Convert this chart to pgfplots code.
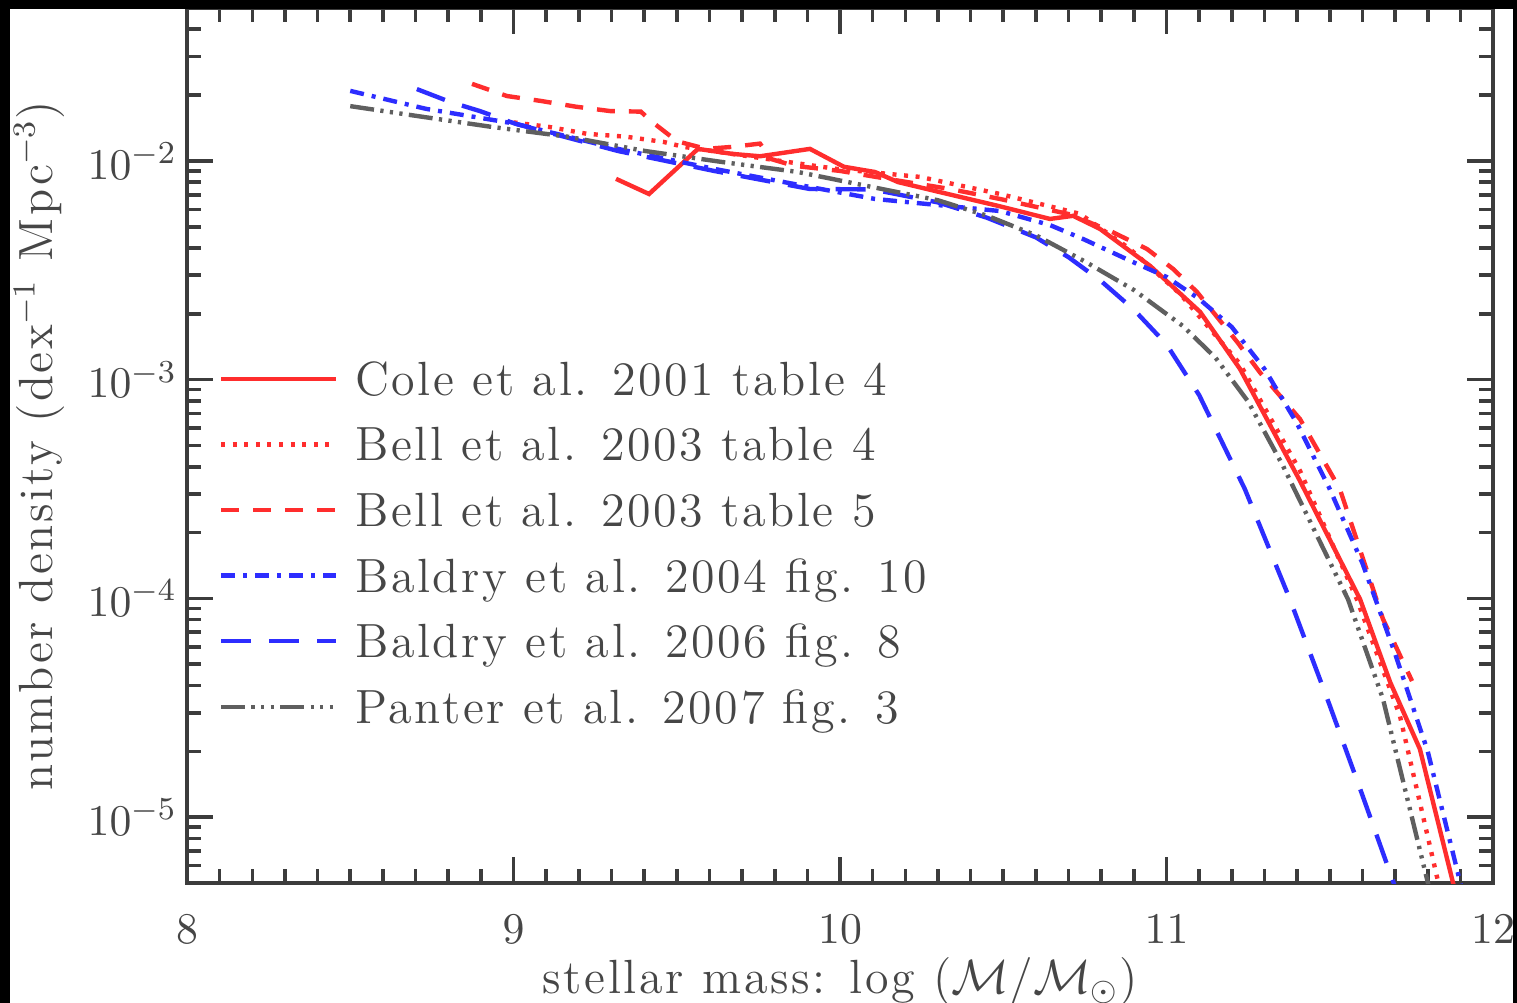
\documentclass[border=0pt]{standalone}
\usepackage{fontspec}
\setmainfont{Latin Modern Roman}[LetterSpace=5.5]
\usepackage{pgfplots}
\pgfplotsset{compat=1.18}

\definecolor{cred}{RGB}{255,45,45}
\definecolor{cblue}{RGB}{45,45,255}
\definecolor{cgray}{RGB}{95,95,95}
\definecolor{cframe}{RGB}{60,60,60}
\definecolor{ctext}{RGB}{70,70,70}

\begin{document}
\begin{tikzpicture}
\path[use as bounding box] (0,0) rectangle (379.25pt,250.75pt);
\fill[white] (0,0) rectangle (379.25pt,250.75pt);
\begin{axis}[
    at={(46.75pt,30pt)}, anchor=south west,
    scale only axis, width=326.5pt, height=218.75pt,
    ymode=log,
    xmin=8, xmax=12, ymin=5e-6, ymax=0.05,
    xtick={8,9,10,11,12}, minor x tick num=9,
    ytick={1e-5,1e-4,1e-3,1e-2},
    extra y ticks={6e-6,7e-6,8e-6,9e-6,
        2e-5,3e-5,4e-5,5e-5,6e-5,7e-5,8e-5,9e-5,
        2e-4,3e-4,4e-4,5e-4,6e-4,7e-4,8e-4,9e-4,
        2e-3,3e-3,4e-3,5e-3,6e-3,7e-3,8e-3,9e-3,
        2e-2,3e-2,4e-2},
    extra y tick labels={},
    extra y tick style={major tick length=3.5pt},
    tick align=inside,
    major tick length=6.5pt, minor tick length=3.5pt,
    axis line style={cframe, line width=1.1pt},
    every tick/.append style={cframe, line width=0.9pt},
    tick label style={font=\fontsize{11}{13}\selectfont, text=ctext},
    xticklabel style={yshift=-4.5pt},
    yticklabel style={xshift=1pt},
    label style={font=\fontsize{12}{14}\selectfont, text=ctext},
    xlabel={stellar mass: log ($\mathcal{M}/\mathcal{M}_\odot$)},
    xlabel style={at={(axis description cs:0.5,-0.12571)}, anchor=base},
    ylabel={number density (dex$^{-1}$ Mpc$^{-3}$)},
    ylabel style={at={(axis description cs:-0.10337,0.5)}, anchor=base},
    legend style={at={(axis description cs:0.02374,0.6146)}, anchor=north west,
        draw=none, fill=none, inner xsep=0pt, inner ysep=0pt,
        font=\fontsize{12}{14}\selectfont,
        nodes={inner sep=0pt, text height=12.3pt, text depth=4.1pt, text=ctext}},
    legend cell align=left,
    legend image code/.code={\draw[#1] (0pt,0pt) -- (28.75pt,0pt); \path (33pt,0pt);},
]
% Cole et al. 2001
\addplot[cred, line width=1.1pt] coordinates {
(9.314,8.28e-3) (9.415,7.06e-3) (9.565,1.135e-2) (9.672,1.076e-2) (9.755,1.05e-2)
(9.908,1.135e-2) (10.012,9.4e-3) (10.107,8.9e-3) (10.178,8.0e-3) (10.306,7.2e-3)
(10.49,6.2e-3) (10.643,5.43e-3) (10.714,5.61e-3) (10.796,4.89e-3) (10.95,3.31e-3)
(11.103,2.04e-3) (11.225,1.12e-3) (11.409,3.44e-4) (11.593,9.9e-5) (11.685,4.14e-5)
(11.776,2.05e-5) (11.877,5.05e-6) (11.9,3.8e-6)
};
\addlegendentry{Cole et al. 2001 table 4}
% Bell et al. 2003 table 4
\addplot[cred, line width=1.1pt, dash pattern=on 1pt off 1.9pt] coordinates {
(9.0,1.5e-2) (9.109,1.43e-2) (9.225,1.33e-2) (9.345,1.29e-2) (9.461,1.22e-2)
(9.52,1.16e-2) (9.838,9.9e-3) (9.988,9.2e-3) (10.245,8.45e-3) (10.49,7.06e-3)
(10.735,5.73e-3) (10.888,3.96e-3) (11.041,2.47e-3) (11.225,1.18e-3) (11.409,3.83e-4)
(11.583,9.9e-5) (11.715,2.9e-5) (11.828,5.37e-6) (11.853,3.8e-6)
};
\addlegendentry{Bell et al. 2003 table 4}
% Bell et al. 2003 table 5
\addplot[cred, line width=1.1pt, dash pattern=on 4.5pt off 3.5pt] coordinates {
(8.873,2.25e-2) (8.98,1.98e-2) (9.084,1.88e-2) (9.191,1.77e-2) (9.296,1.69e-2)
(9.39,1.68e-2) (9.424,1.51e-2) (9.501,1.23e-2) (9.59,1.135e-2) (9.672,1.16e-2)
(9.755,1.2e-2) (9.789,1.02e-2) (9.859,9.5e-3) (10.0,9.0e-3) (10.184,8.1e-3)
(10.337,7.44e-3) (10.49,6.7e-3) (10.704,5.7e-3) (10.827,4.79e-3) (10.94,3.96e-3)
(11.02,3.21e-3) (11.093,2.52e-3) (11.216,1.49e-3) (11.286,1.08e-3) (11.409,6.6e-4)
(11.531,3.16e-4) (11.663,8.05e-5) (11.752,4.19e-5)
};
\addlegendentry{Bell et al. 2003 table 5}
% Baldry et al. 2004
\addplot[cblue, line width=1.1pt, dash pattern=on 3.5pt off 2pt on 1pt off 2pt] coordinates {
(8.5,2.09e-2) (8.732,1.73e-2) (9.005,1.48e-2) (9.32,1.135e-2) (9.614,9.2e-3)
(9.908,7.6e-3) (10.107,6.7e-3) (10.49,5.9e-3) (10.643,5.09e-3) (10.744,4.4e-3)
(10.897,3.45e-3) (11.0,2.95e-3) (11.1,2.34e-3) (11.2,1.74e-3) (11.3,1.12e-3)
(11.4,6.3e-4) (11.5,3.16e-4) (11.6,1.45e-4) (11.7,5.6e-5) (11.8,2.0e-5)
(11.9,5.0e-6) (11.92,3.8e-6)
};
\addlegendentry{Baldry et al. 2004 fig. 10}
% Baldry et al. 2006
\addplot[cblue, line width=1.1pt, dash pattern=on 7.5pt off 4.5pt] coordinates {
(8.704,2.13e-2) (8.806,1.86e-2) (8.897,1.69e-2) (9.005,1.48e-2) (9.32,1.11e-2)
(9.614,9.0e-3) (9.908,7.44e-3) (10.1,7.41e-3) (10.3,6.46e-3) (10.45,5.5e-3)
(10.6,4.47e-3) (10.7,3.63e-3) (10.8,2.82e-3) (10.9,2.09e-3) (11.0,1.45e-3)
(11.1,8.5e-4) (11.24,3.16e-4) (11.378,9.9e-5) (11.5,3.24e-5) (11.6,1.26e-5)
(11.7,4.8e-6) (11.73,3.6e-6)
};
\addlegendentry{Baldry et al. 2006 fig. 8}
% Panter et al. 2007
\addplot[cgray, line width=1.1pt, dash pattern=on 6pt off 1.6pt on 0.8pt off 1.6pt on 0.8pt off 1.6pt on 0.8pt off 1.6pt] coordinates {
(8.5,1.78e-2) (8.698,1.61e-2) (8.934,1.43e-2) (9.167,1.29e-2) (9.403,1.11e-2)
(9.636,9.9e-3) (9.871,8.9e-3) (10.1,7.59e-3) (10.3,6.61e-3) (10.45,5.62e-3)
(10.6,4.57e-3) (10.75,3.47e-3) (10.9,2.57e-3) (11.05,1.76e-3) (11.15,1.26e-3)
(11.25,7.94e-4) (11.357,4.03e-4) (11.556,9.9e-5) (11.663,3.47e-5) (11.80,5.05e-6)
(11.822,3.8e-6)
};
\addlegendentry{Panter et al. 2007 fig. 3}
\end{axis}
\fill[black] (0,248.5pt) rectangle (379.25pt,250.75pt);
\fill[black] (0,0) rectangle (2.5pt,250.75pt);
\fill[black] (378.25pt,0) rectangle (379.25pt,250.75pt);
\end{tikzpicture}
\end{document}
